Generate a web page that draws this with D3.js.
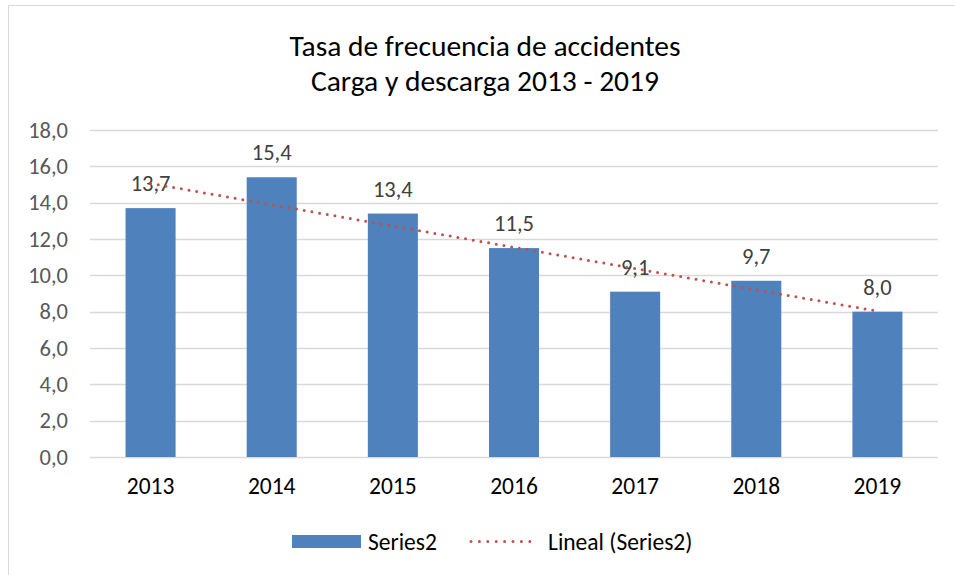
<!DOCTYPE html>
<html>
<head>
<meta charset="utf-8">
<script src="https://cdn.jsdelivr.net/npm/d3@7"></script>
<style>
  body { margin: 0; background: #fff; }
  text { font-family: Carlito, Lato, "Open Sans", sans-serif; }
</style>
</head>
<body>
<svg id="chart"></svg>
<script>
// chart data
const years = ["2013", "2014", "2015", "2016", "2017", "2018", "2019"];
const values = [13.7, 15.4, 13.4, 11.5, 9.1, 9.7, 8.0];
const yTicks = [0, 2, 4, 6, 8, 10, 12, 14, 16, 18];
const titleLines = ["Tasa de frecuencia de accidentes", "Carga y descarga 2013 - 2019"];
const seriesName = "Series2";
const trendName = "Lineal (Series2)";

const width = 955, height = 575;
const margin = { top: 130, right: 17, bottom: 118, left: 90 };
const fontStack = "Carlito, Lato, 'Open Sans', sans-serif";

const svg = d3.select("#chart")
    .attr("width", width)
    .attr("height", height);

// outer frame
svg.append("rect")
    .attr("x", 8.5).attr("y", 5.5)
    .attr("width", width - 6).attr("height", height)
    .attr("fill", "none")
    .attr("stroke", "#d9d9d9");

const x = d3.scaleBand()
    .domain(years)
    .range([margin.left, width - margin.right])
    .paddingInner(0.587)
    .paddingOuter(0.2935);

const y = d3.scaleLinear()
    .domain([0, 18])
    .range([height - margin.bottom, margin.top]);

// title
svg.append("text")
    .attr("x", 485).attr("y", 56)
    .attr("text-anchor", "middle")
    .attr("font-size", 29.5)
    .attr("fill", "#000")
    .selectAll("tspan")
    .data(titleLines)
    .join("tspan")
    .attr("x", 485)
    .attr("dy", (d, i) => i === 0 ? 0 : 35)
    .text(d => d);

// gridlines
svg.append("g")
    .selectAll("line")
    .data(yTicks)
    .join("line")
    .attr("x1", margin.left).attr("x2", width - margin.right)
    .attr("y1", d => Math.round(y(d)) + 0.5)
    .attr("y2", d => Math.round(y(d)) + 0.5)
    .attr("stroke", "#d9d9d9")
    .attr("stroke-width", 1.3);

// y axis labels
const yAxis = svg.append("g")
    .attr("transform", `translate(${margin.left},0)`)
    .call(d3.axisLeft(y).tickValues(yTicks).tickSize(0).tickPadding(22)
        .tickFormat(d => d3.format(".1f")(d).replace(".", ",")));
yAxis.select(".domain").remove();
yAxis.selectAll("text")
    .attr("font-size", 22.5)
    .attr("fill", "#595959")
    .style("font-family", fontStack);

// x axis labels
const xAxis = svg.append("g")
    .attr("transform", `translate(0,${height - margin.bottom})`)
    .call(d3.axisBottom(x).tickSize(0).tickPadding(20));
xAxis.select(".domain").remove();
xAxis.selectAll("text")
    .attr("font-size", 23.5)
    .attr("fill", "#000")
    .style("font-family", fontStack);

// bars
svg.append("g")
    .selectAll("rect")
    .data(values)
    .join("rect")
    .attr("x", (d, i) => x(years[i]))
    .attr("y", d => y(d))
    .attr("width", x.bandwidth())
    .attr("height", d => y(0) - y(d))
    .attr("fill", "#4f81bd");

// data labels
svg.append("g")
    .selectAll("text")
    .data(values)
    .join("text")
    .attr("x", (d, i) => x(years[i]) + x.bandwidth() / 2)
    .attr("y", d => y(d) - 17)
    .attr("text-anchor", "middle")
    .attr("font-size", 22.5)
    .attr("fill", "#404040")
    .text(d => d3.format(".1f")(d).replace(".", ","));

// linear trend (least squares on the series)
const n = values.length;
const xs = d3.range(1, n + 1);
const mx = d3.mean(xs), my = d3.mean(values);
const slope = d3.sum(xs, (v, i) => (v - mx) * (values[i] - my)) / d3.sum(xs, v => (v - mx) ** 2);
const icpt = my - slope * mx;
const trend = [1, n].map(k => ({ cx: x(years[k - 1]) + x.bandwidth() / 2, v: icpt + slope * k }));

svg.append("path")
    .datum(trend)
    .attr("d", d3.line().x(d => d.cx).y(d => y(d.v)))
    .attr("fill", "none")
    .attr("stroke", "#c0504d")
    .attr("stroke-width", 3)
    .attr("stroke-linecap", "round")
    .attr("stroke-dasharray", "0 7.8");

// legend
const legend = svg.append("g");
legend.append("rect")
    .attr("x", 292).attr("y", 535)
    .attr("width", 69).attr("height", 13)
    .attr("fill", "#4f81bd");
legend.append("text")
    .attr("x", 368).attr("y", 550)
    .attr("font-size", 23.5).attr("fill", "#000")
    .text(seriesName);
legend.append("line")
    .attr("x1", 471).attr("x2", 538)
    .attr("y1", 541.5).attr("y2", 541.5)
    .attr("stroke", "#c0504d")
    .attr("stroke-width", 3)
    .attr("stroke-linecap", "round")
    .attr("stroke-dasharray", "0 8.4");
legend.append("text")
    .attr("x", 548).attr("y", 550)
    .attr("font-size", 23.5).attr("fill", "#000")
    .text(trendName);
</script>
</body>
</html>
